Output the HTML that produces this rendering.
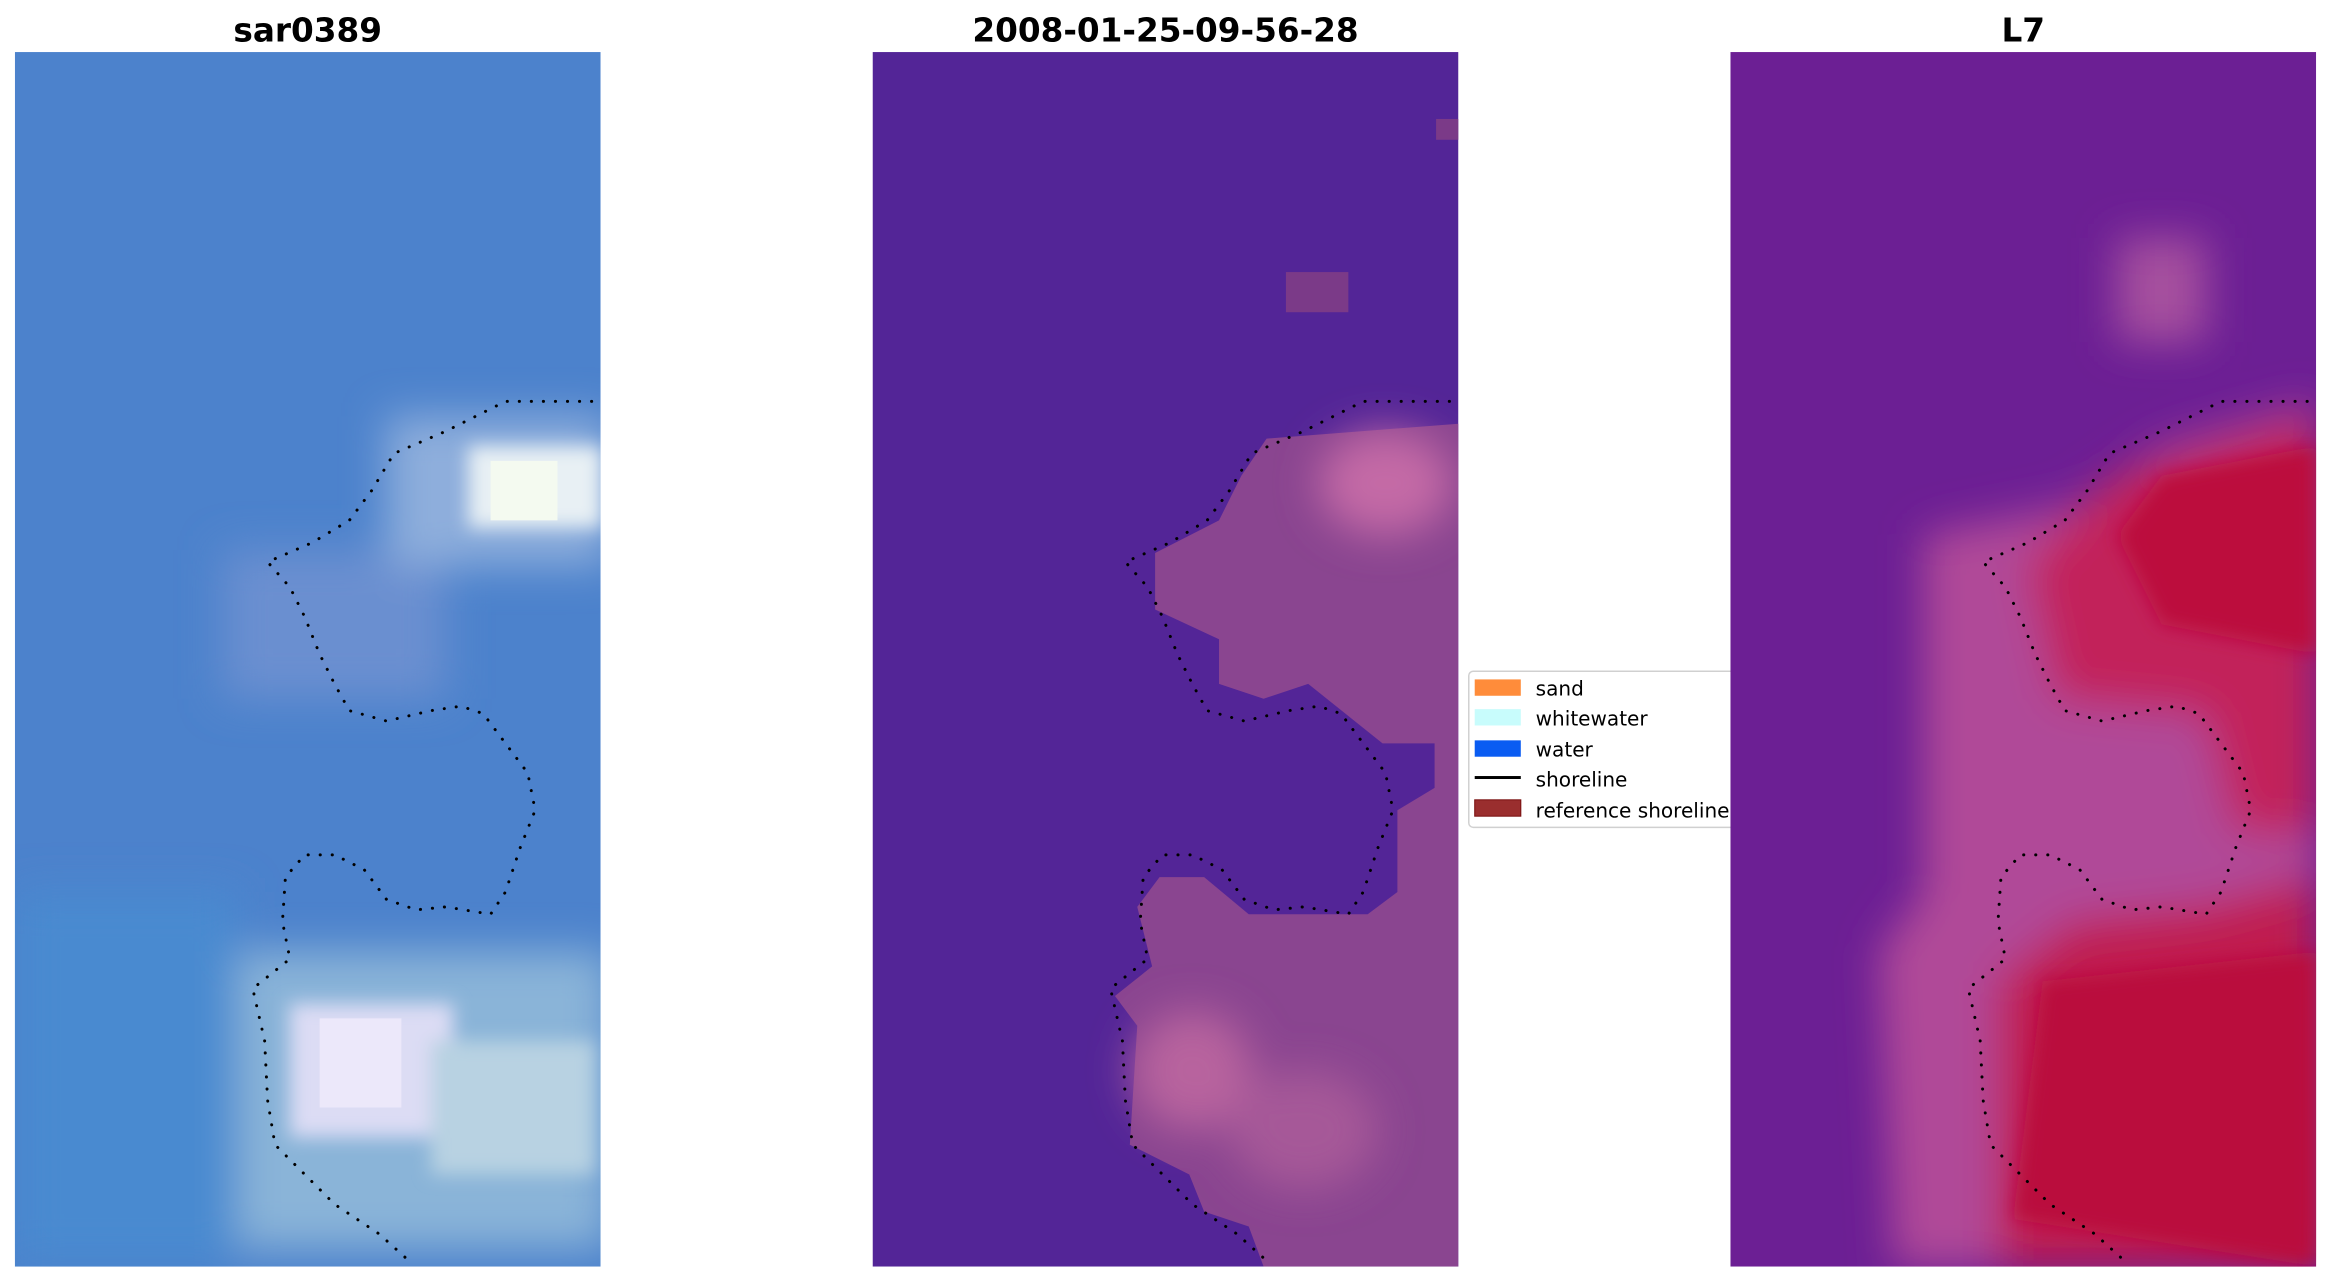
<!DOCTYPE html>
<html><head><meta charset="utf-8"><style>
html,body{margin:0;padding:0;background:#fff;}
svg{display:block;}
</style></head><body>
<svg width="2331" height="1283" viewBox="0 0 1568 863" xmlns="http://www.w3.org/2000/svg">
<defs>
<clipPath id="c"><rect x="10" y="35" width="394" height="817"/></clipPath>
<filter id="b" x="-20%" y="-20%" width="140%" height="140%"><feGaussianBlur stdDeviation="14"/></filter>
<filter id="b2" x="-20%" y="-20%" width="140%" height="140%"><feGaussianBlur stdDeviation="6"/></filter>
<polyline id="sh" points="398,270 340,270 300,290 265,305 250,330 235,350 210,365 180,378 195,395 205,415 215,440 225,460 235,478 260,485 290,478 310,475 325,480 340,500 355,520 360,545 350,570 340,600 330,615 300,610 280,612 260,605 245,585 225,575 205,575 192,590 190,620 195,645 170,665 178,700 180,740 185,770 205,790 225,810 255,830 275,848" fill="none" stroke="#000" stroke-width="2" stroke-linecap="round" stroke-dasharray="0.1 8"/>
</defs>
<g font-family="DejaVu Sans, Liberation Sans, sans-serif" font-weight="bold" font-size="22" text-anchor="middle">
<text x="207" y="28">sar0389</text>
<text x="784" y="28">2008-01-25-09-56-28</text>
<text x="1361" y="28">L7</text>
</g>

<!-- panel 1 -->
<g clip-path="url(#c)">
<rect x="10" y="35" width="394" height="817" fill="#4c82cc"/>
<g filter="url(#b)">
<rect x="150" y="370" width="150" height="100" fill="#6a8fd0"/>
<rect x="260" y="280" width="150" height="100" fill="#8eaedc"/>
<rect x="150" y="640" width="260" height="200" fill="#8ab4d8"/>
<rect x="10" y="600" width="150" height="250" fill="#4a8ad0"/>
</g>
<g filter="url(#b2)">
<rect x="315" y="300" width="90" height="55" fill="#e8f0f4"/>
<rect x="195" y="675" width="110" height="90" fill="#dcdcf4"/>
<rect x="290" y="700" width="110" height="90" fill="#b8d2e2"/>
</g>
<rect x="330" y="310" width="45" height="40" fill="#f4faf0"/>
<rect x="215" y="685" width="55" height="60" fill="#ece8fa"/>
</g>
<use href="#sh"/>

<!-- panel 2 -->
<g transform="translate(577,0)">
<g clip-path="url(#c)">
<rect x="10" y="35" width="394" height="817" fill="#532597"/>
<polygon points="404,285 275,295 258,320 243,350 200,372 200,410 243,430 243,460 273,470 303,460 353,500 388,500 388,530 363,545 363,600 343,615 263,615 233,590 203,590 188,610 198,650 173,670 188,690 183,770 223,790 233,815 263,825 273,852 404,852" fill="#8a4590"/>
<g filter="url(#b)">
<ellipse cx="355" cy="325" rx="45" ry="35" fill="#c46aa6"/>
<ellipse cx="225" cy="720" rx="40" ry="40" fill="#b8649e"/>
<ellipse cx="300" cy="760" rx="50" ry="40" fill="#a65898"/>
</g>
<rect x="288" y="183" width="42" height="27" fill="#7b3a88"/>
<rect x="389" y="80" width="15" height="14" fill="#7b3a88"/>
</g>
<use href="#sh"/>
</g>

<!-- legend -->
<rect x="988" y="451.5" width="190" height="105" rx="3" fill="#fff" stroke="#d0d0d0" stroke-width="1"/>
<g font-family="DejaVu Sans, Liberation Sans, sans-serif" font-size="13.5" fill="#000">
<rect x="992" y="457" width="31" height="11" fill="#ff8c3a"/><text x="1033" y="468">sand</text>
<rect x="992" y="477" width="31" height="11" fill="#c8fcfc"/><text x="1033" y="488">whitewater</text>
<rect x="992" y="498" width="31" height="11" fill="#0a5cf2"/><text x="1033" y="509">water</text>
<rect x="992" y="522" width="31" height="2" fill="#000"/><text x="1033" y="529">shoreline</text>
<rect x="992" y="538" width="31" height="11" fill="#9a2e2e" stroke="#7a1010" stroke-width="0.7"/><text x="1033" y="550">reference shoreline</text>
</g>

<!-- panel 3 (drawn over legend) -->
<g transform="translate(1154,0)">
<g clip-path="url(#c)">
<rect x="10" y="35" width="394" height="817" fill="#6c1f94"/>
<g filter="url(#b)">
<rect x="270" y="160" width="60" height="70" fill="#a6509e"/>
<polygon points="404,270 300,300 240,340 140,360 140,600 110,640 120,852 404,852" fill="#b04a98"/>
<polygon points="404,280 270,320 210,380 230,470 330,480 350,560 404,560" fill="#c2205a"/>
<polygon points="404,590 330,610 240,620 190,660 190,852 404,852" fill="#c01a50"/>
</g>
<polygon points="404,300 300,320 270,360 300,420 404,440" fill="#bc0a3c" filter="url(#b2)"/>
<polygon points="404,640 220,660 200,820 404,852" fill="#ba0a3c" filter="url(#b2)"/>
</g>
<use href="#sh"/>
</g>
</svg>
</body></html>
